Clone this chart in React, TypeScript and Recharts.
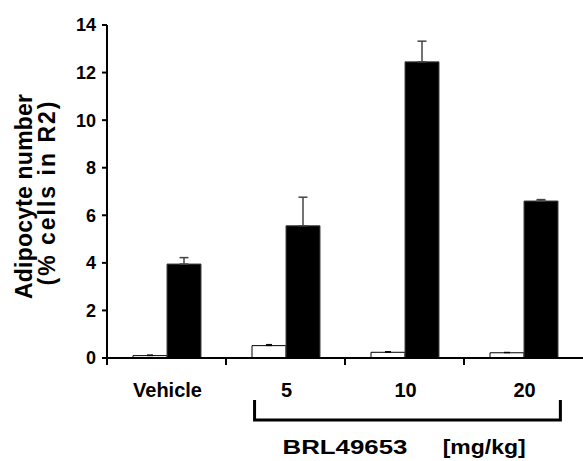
import { BarChart, Bar, XAxis, YAxis, ErrorBar } from "recharts";

// values
const categories = ["Vehicle", "5", "10", "20"];
const controlValues = [0.1, 0.52, 0.24, 0.22];
const controlErrors = [0.03, 0.05, 0.03, 0.02];
const treatedValues = [3.95, 5.56, 12.45, 6.6];
const treatedErrors = [0.27, 1.2, 0.87, 0.06];
const yTicks = [0, 2, 4, 6, 8, 10, 12, 14];

const CHART_W = 583;
const CHART_H = 461;
const Y_AXIS_W = 107;
const TOP = 25;
const X_AXIS_H = 103;
const BAND = (CHART_W - Y_AXIS_W) / categories.length;
const FONT = '"Liberation Sans", Arial, sans-serif';

const data = categories.map((name, i) => ({
  name,
  control: controlValues[i],
  controlErr: [0, controlErrors[i]],
  treated: treatedValues[i],
  treatedErr: [0, treatedErrors[i]],
}));

// label in the middle of the band, tick mark on its left edge
function CategoryTick({ x, y, payload }: any) {
  const left = x - BAND / 2;
  return (
    <g>
      <line x1={left} y1={y} x2={left} y2={y + 7} stroke="#000" strokeWidth={2} />
      <text
        x={x + 1}
        y={y + 39}
        textAnchor="middle"
        fontFamily={FONT}
        fontWeight="bold"
        fontSize={20}
        fill="#000"
      >
        {payload.value}
      </text>
    </g>
  );
}

const renderYLabel = ({ viewBox }: any) => {
  const cy = viewBox.y + viewBox.height / 2 + 5;
  return (
    <g fontFamily={FONT} fontWeight="bold" fontSize={23} fill="#000">
      <text x={32} y={cy} transform={`rotate(-90 32 ${cy})`} textAnchor="middle" textLength={205}>
        Adipocyte number
      </text>
      <text x={55} y={cy - 3} transform={`rotate(-90 55 ${cy - 3})`} textAnchor="middle" textLength={184}>
        (% cells in R2)
      </text>
    </g>
  );
};

export default function App() {
  const bracketLeft = Y_AXIS_W + BAND * 1.24;
  const bracketRight = Y_AXIS_W + BAND * 3.81;
  return (
    <div style={{ position: "absolute", left: 0, top: 0, width: CHART_W, height: CHART_H }}>
      <BarChart
        width={CHART_W}
        height={CHART_H}
        data={data}
        margin={{ top: TOP, right: 0, bottom: 0, left: 0 }}
        barGap={0}
        barSize={34}
      >
        <XAxis
          dataKey="name"
          height={X_AXIS_H}
          axisLine={{ stroke: "#000", strokeWidth: 2 }}
          tickLine={false}
          tickSize={0}
          tickMargin={0}
          interval={0}
          tick={<CategoryTick />}
        />
        <YAxis
          width={Y_AXIS_W}
          domain={[0, 14]}
          ticks={yTicks}
          interval={0}
          axisLine={{ stroke: "#000", strokeWidth: 2 }}
          tickLine={{ stroke: "#000", strokeWidth: 2 }}
          tickSize={5}
          tickMargin={6}
          tick={{ fill: "#000", fontSize: 18, fontWeight: "bold", fontFamily: FONT }}
          label={renderYLabel}
        />
        <Bar dataKey="control" fill="#fff" stroke="#000" strokeWidth={1} isAnimationActive={false}>
          <ErrorBar dataKey="controlErr" width={3} stroke="#000" strokeWidth={1} isAnimationActive={false} />
        </Bar>
        <Bar dataKey="treated" fill="#000" stroke="#444" strokeWidth={1} isAnimationActive={false}>
          <ErrorBar dataKey="treatedErr" width={4.5} stroke="#444" strokeWidth={1.5} isAnimationActive={false} />
        </Bar>
      </BarChart>
      <svg
        width={CHART_W}
        height={CHART_H}
        style={{ position: "absolute", left: 0, top: 0, pointerEvents: "none" }}
      >
        <path
          d={`M${bracketLeft} 400 V420 H${bracketRight} V400`}
          fill="none"
          stroke="#000"
          strokeWidth={3}
        />
        <g fontFamily={FONT} fontWeight="bold" fontSize={20} fill="#000">
          <text
            x={Y_AXIS_W + BAND * 2}
            y={454}
            textAnchor="middle"
            textLength={125}
            lengthAdjust="spacingAndGlyphs"
          >
            BRL49653
          </text>
          <text
            x={Y_AXIS_W + BAND * 3.17}
            y={454}
            textAnchor="middle"
            textLength={83}
            lengthAdjust="spacingAndGlyphs"
          >
            [mg/kg]
          </text>
        </g>
      </svg>
    </div>
  );
}
